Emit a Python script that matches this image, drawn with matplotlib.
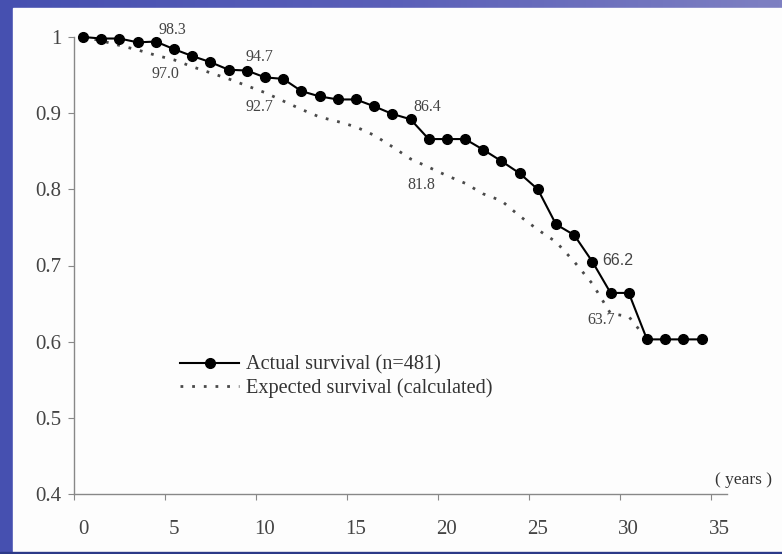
import numpy as np
import matplotlib
matplotlib.use("Agg")
import matplotlib.pyplot as plt
from matplotlib.patches import Rectangle

# data
years = list(range(0, 35))
actual = [1.000, 0.998, 0.998, 0.993, 0.994, 0.984, 0.975, 0.967, 0.957, 0.956,
          0.947, 0.945, 0.929, 0.922, 0.918, 0.918, 0.909, 0.899, 0.892, 0.866,
          0.866, 0.866, 0.852, 0.837, 0.821, 0.800, 0.754, 0.740, 0.705, 0.664,
          0.664, 0.603, 0.603, 0.603, 0.603]
exp_years = list(range(0, 32))
expected = [1.000, 0.995, 0.989, 0.983, 0.976, 0.970, 0.961, 0.953, 0.945, 0.936,
            0.927, 0.916, 0.905, 0.895, 0.889, 0.882, 0.871, 0.856, 0.840, 0.829,
            0.818, 0.808, 0.794, 0.785, 0.765, 0.747, 0.731, 0.705, 0.676, 0.637,
            0.633, 0.603]
labels = ["98.3", "97.0", "94.7", "92.7", "86.4", "81.8", "66.2", "63.7"]
label_x = [4.9, 4.5, 9.7, 9.7, 18.9, 18.6, 29.4, 28.5]
label_y = [1.009, 0.952, 0.974, 0.908, 0.908, 0.806, 0.707, 0.629]
xticklabels = ["0", "5", "10", "15", "20", "25", "30", "35"]
yticks = [0.4, 0.5, 0.6, 0.7, 0.8, 0.9, 1.0]
yticklabels = ["0.4", "0.5", "0.6", "0.7", "0.8", "0.9", "1"]

serif = ["Liberation Serif", "DejaVu Serif"]
W, H = 782, 554
fig = plt.figure(figsize=(W / 100, H / 100), dpi=100)

# slide background: blue gradient with white panel
bg = fig.add_axes([0, 0, 1, 1])
grad = np.linspace(0, 1, 256).reshape(1, -1)
cmap = matplotlib.colors.LinearSegmentedColormap.from_list("bg", ["#4650b0", "#5a5fb8", "#7e80c2"])
bg.imshow(grad, aspect="auto", cmap=cmap, extent=[0, 1, 0, 1])
bg.add_patch(Rectangle((13 / W, 2 / H), 1 - 13 / W, (552 - 8) / H, color="#fdfdfd"))
bg.add_patch(Rectangle((0, 0), 1, 2 / H, color="#2c3a88"))
bg.set_xlim(0, 1)
bg.set_ylim(0, 1)
bg.axis("off")

ax = fig.add_axes([74 / W, (H - 494) / H, (727 - 74) / W, (494 - 37) / H])
ax.patch.set_alpha(0)

ax.plot(exp_years, expected, color="#4a4a4a", linestyle=(0, (1, 3.2)), linewidth=2.0,
        label="Expected survival (calculated)", clip_on=False, zorder=2)
ax.plot(years, actual, color="black", linewidth=1.5, marker="o", markersize=7,
        label="Actual survival (n=481)", clip_on=False, zorder=3)

for t, x, y in zip(labels, label_x, label_y):
    fam = ["Liberation Sans"] if t == "66.2" else serif
    ax.text(x, y, t, ha="center", va="center", fontsize=11.5, family=fam, color="#444444")

ax.set_xlim(-0.5, 35.4)
ax.set_ylim(0.4, 1.0)

# category axis: ticks between categories, labels on categories
ax.set_xticks(np.arange(-0.5, 35, 5))
ax.set_xticklabels([])
ax.set_xticks(np.arange(0, 36, 5), minor=True)
ax.set_xticklabels(xticklabels, minor=True, fontsize=15, family=serif, color="#444444")
ax.tick_params(axis="x", which="minor", length=0, pad=19)
ax.tick_params(axis="x", which="major", length=4, color="#888888")
ax.set_yticks(yticks)
ax.set_yticklabels(yticklabels, fontsize=15, family=serif, color="#444444")
ax.tick_params(axis="y", length=4, color="#888888", pad=5)

for s in ["top", "right"]:
    ax.spines[s].set_visible(False)
for s in ["left", "bottom"]:
    ax.spines[s].set_color("#888888")
    ax.spines[s].set_linewidth(1.0)

h, l = ax.get_legend_handles_labels()
ax.legend(h[::-1], l[::-1], loc="upper left", bbox_to_anchor=(0.147, 0.325), frameon=False,
          borderpad=0, handlelength=2.9, handletextpad=0.35, labelspacing=0.15,
          prop={"family": serif, "size": 14.6}, labelcolor="#333333")

ax.text(0.982, 0.031, "( years )", transform=ax.transAxes, ha="left", va="center",
        fontsize=12.5, family=serif, color="#333333")

fig.savefig("out.png", dpi=100)
